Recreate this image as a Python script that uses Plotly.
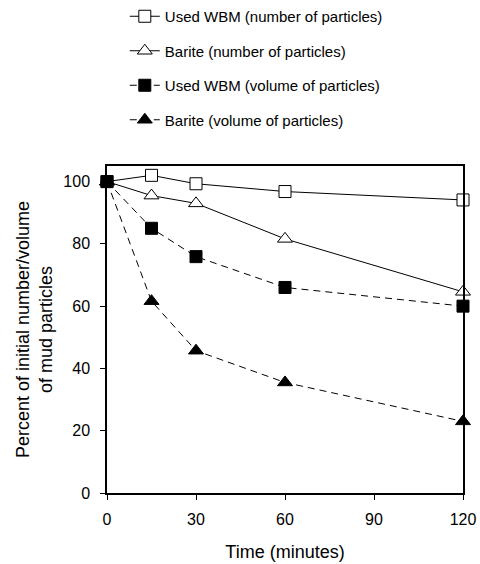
import plotly.graph_objects as go

time_min = [0, 15, 30, 60, 120]
wbm_number = [100, 102, 99.3, 96.8, 94.1]
barite_number = [100, 95.5, 93, 81.6, 64.6]
wbm_volume = [100, 85, 75.9, 66, 60]
barite_volume = [100, 61.6, 45.7, 35.5, 23]

series_names = [
    "Used WBM (number of particles)",
    "Barite (number of particles)",
    "Used WBM (volume of particles)",
    "Barite (volume of particles)",
]

FONT = "Liberation Sans, Arial, sans-serif"

fig = go.Figure()

styles = [
    (wbm_number, "square", "white", "solid", 12),
    (barite_number, "triangle-up", "white", "solid", 13),
    (wbm_volume, "square", "black", "dash", 12),
    (barite_volume, "triangle-up", "black", "dash", 13),
]

for i, (vals, sym, fill, dash, size) in enumerate(styles):
    fig.add_trace(go.Scatter(
        x=time_min, y=vals, name=series_names[i],
        mode="lines+markers",
        line=dict(color="black", width=1, dash="7px,5px" if dash == "dash" else "solid"),
        marker=dict(symbol=sym, size=size, color=fill,
                    line=dict(color="black", width=1)),
        cliponaxis=False,
        legendgroup=f"g{i}",
    ))

fig.update_layout(
    width=480, height=564,
    margin=dict(l=107, r=17, t=166, b=71),
    paper_bgcolor="white", plot_bgcolor="white",
    font=dict(family=FONT, size=16, color="black"),
    showlegend=True,
    legend=dict(
        x=0.05, y=1.0, xref="paper", yref="container",
        xanchor="left", yanchor="top",
        font=dict(family=FONT, size=15, color="black"),
        traceorder="grouped", tracegroupgap=12,
        bgcolor="rgba(0,0,0,0)",
    ),
    xaxis=dict(
        range=[0, 120], tickvals=[0, 30, 60, 90, 120],
        showgrid=False, zeroline=False, automargin=False,
        showline=True, linecolor="black", linewidth=1.5, mirror=True,
        ticks="outside", ticklen=5, tickcolor="black",
        tickfont=dict(size=16), ticklabelstandoff=6,
        title=dict(text="Time (minutes)", font=dict(size=18), standoff=18),
    ),
    yaxis=dict(
        range=[0, 105], tickvals=[0, 20, 40, 60, 80, 100],
        showgrid=False, zeroline=False, automargin=False,
        showline=True, linecolor="black", linewidth=1.5, mirror=True,
        ticks="outside", ticklen=5, tickcolor="black",
        tickfont=dict(size=16), ticklabelstandoff=7,
        title=dict(text="Percent of initial number/volume<br>of mud particles",
                   font=dict(size=18), standoff=6),
    ),
)

fig.write_html("out.html")
